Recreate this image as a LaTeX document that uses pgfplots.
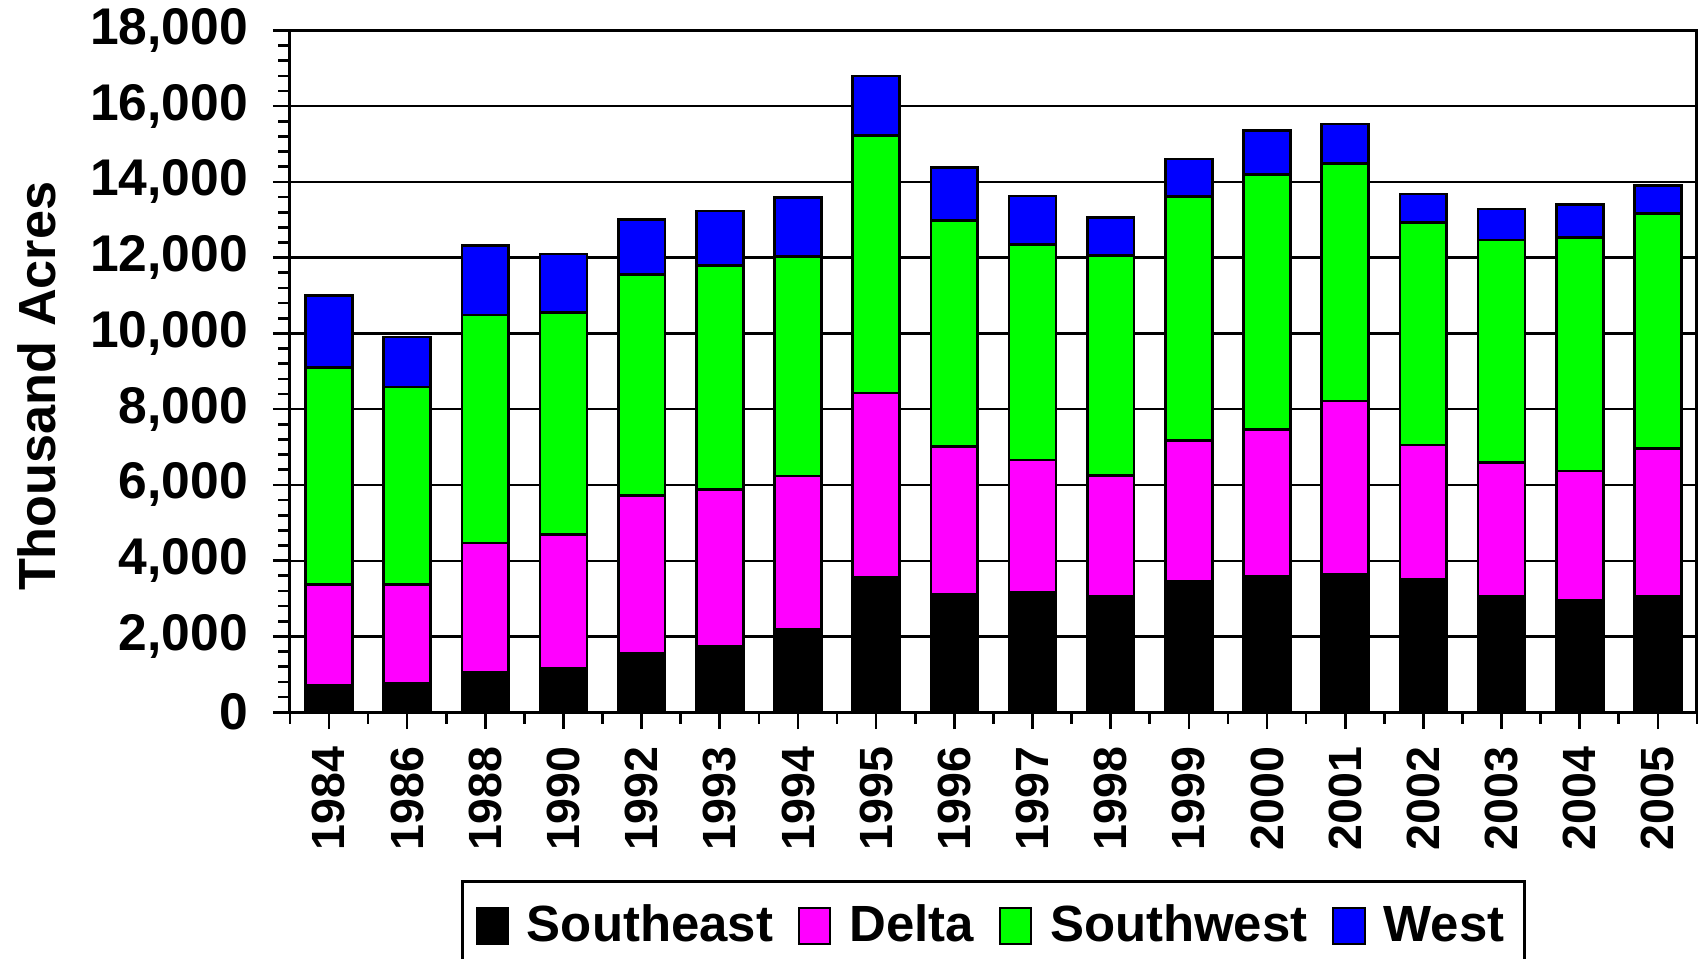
\documentclass[border=0pt]{standalone}
\usepackage{pgfplots}
\pgfplotsset{compat=1.18}
\usepackage{pgfplotstable}
\usepackage{fontspec}
\setmainfont{Liberation Sans}

\definecolor{seblack}{RGB}{0,0,0}
\definecolor{deltamag}{RGB}{255,0,255}
\definecolor{swgreen}{RGB}{0,255,0}
\definecolor{westblue}{RGB}{0,0,255}

% thousand acres
\pgfplotstableread{
x  SE    Delta SW    West
0  710   2658  5737  1904
1  754   2614  5220  1316
2  1044  3421  6017  1835
3  1167  3517  5860  1552
4  1553  4166  5842  1445
5  1728  4158  5912  1438
6  2184  4053  5798  1545
7  3570  4860  6793  1570
8  3116  3894  5968  1409
9  3173  3482  5693  1283
10 3058  3196  5808  996
11 3459  3712  6449  985
12 3574  3883  6735  1169
13 3631  4582  6266  1054
14 3517  3539  5865  756
15 3058  3540  5865  825
16 2944  3425  6163  870
17 3058  3895  6209  744
}\acres

\newcommand\yf{\bfseries\fontsize{15.5}{17}\selectfont}
\newcommand\xf{\bfseries\fontsize{14}{16}\selectfont}

\begin{document}
\begin{tikzpicture}
\begin{axis}[
    scale only axis,
    width=14.86cm,
    height=7.20cm,
    ybar stacked,
    bar width=0.6,
    xmin=-0.5, xmax=17.5,
    ymin=0, ymax=18000,
    axis line style={line width=0.9pt},
    tick pos=left,
    tick align=outside,
    major tick length=0.18cm,
    minor tick length=0.12cm,
    every tick/.style={black, line width=0.8pt},
    xtick={0,...,17},
    xticklabels={1984,1986,1988,1990,1992,1993,1994,1995,1996,1997,1998,1999,2000,2001,2002,2003,2004,2005},
    minor xtick={-0.5,0.5,...,17.5},
    ytick={0,2000,...,18000},
    minor y tick num=4,
    scaled y ticks=false,
    ymajorgrids,
    major grid style={black, line width=0.7pt},
    /pgf/number format/.cd, 1000 sep={,}, assume math mode=true,
    /pgfplots/.cd,
    yticklabel style={font=\yf, xshift=-0.14cm},
    xticklabel style={font=\xf, yshift=-0.06cm, rotate=90, anchor=east},
    ylabel={Thousand Acres},
    ylabel style={font=\bfseries\fontsize{15.7}{17}\selectfont, at={(axis description cs:-0.18,0.478)}, anchor=center},
    legend columns=4,
    legend cell align=left,
    legend style={at={(axis description cs:0.5,-0.2465)}, anchor=north, draw=black, line width=0.9pt,
        font=\bfseries\fontsize{15.3}{17}\selectfont, inner xsep=4pt, inner ysep=5pt,
        /tikz/every even column/.append style={column sep=5.5pt},
        /tikz/every odd column/.append style={column sep=0.12cm}},
    legend image code/.code={\draw[#1, line width=0.6pt] (0cm,-0.195cm) rectangle (0.33cm,0.195cm);},
    every axis plot/.append style={draw=black, line width=0.8pt},
]
\addplot[fill=seblack] table[x=x, y=SE] {\acres};
\addplot[fill=deltamag] table[x=x, y=Delta] {\acres};
\addplot[fill=swgreen] table[x=x, y=SW] {\acres};
\addplot[fill=westblue] table[x=x, y=West] {\acres};
\legend{Southeast, Delta, Southwest, West}
\coordinate (bbsw) at (rel axis cs:-0.206,-0.361);
\coordinate (bbne) at (rel axis cs:1.0057,1.0446);
\end{axis}
\pgfresetboundingbox
\useasboundingbox (bbsw) rectangle (bbne);
\end{tikzpicture}
\end{document}
